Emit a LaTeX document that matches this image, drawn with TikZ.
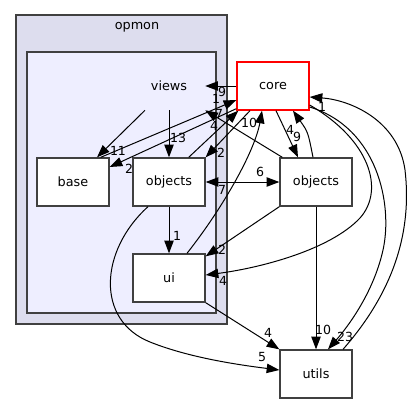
\documentclass[tikz,border=0pt]{standalone}
\usepackage{fontspec}
\setmainfont{DejaVu Sans}
\usetikzlibrary{arrows.meta,calc}
\definecolor{clusterA}{HTML}{DDDDEE}
\definecolor{clusterB}{HTML}{EEEEFF}
\definecolor{boxline}{HTML}{404040}
\begin{document}
\begin{tikzpicture}[x=0.75pt,y=-0.75pt,
  box/.style={draw=boxline, line width=1pt, fill=white, minimum width=54pt, minimum height=36pt, inner sep=0pt, font=\fontsize{9.6}{11}\selectfont},
  plain/.style={minimum width=54pt, minimum height=36pt, inner sep=0pt, font=\fontsize{9.6}{11}\selectfont},
  cluster/.style={draw=boxline, line width=1pt},
  dep/.style={-{Triangle[length=9.5pt,width=7pt]}, line width=0.75pt, black},
  both/.style={{Triangle[length=9.5pt,width=7pt]}-{Triangle[length=9.5pt,width=7pt]}, line width=0.75pt, black},
  lbl/.style={font=\fontsize{9.4}{10}\selectfont, inner sep=0pt}]
\useasboundingbox (0,0) rectangle (416,404);
% clusters
\draw[cluster, fill=clusterA] (16,15) rectangle (227,324);
\draw[cluster, fill=clusterB] (27,52) rectangle (216,313);
\node[plain, minimum height=0pt] (opmonlbl) at (137,27) {opmon};
% nodes
\node[plain] (views) at (169,86) {views};
\node[box] (base) at (73,182) {base};
\node[box] (objin) at (169,182) {objects};
\node[box] (ui) at (169,278) {ui};
\node[box, draw=red] (core) at (273,86) {core};
\node[box] (objout) at (316,182) {objects};
\node[box] (utils) at (316,374) {utils};
% edges
\draw[dep] ($(views.south)+(-24,0)$) -- ($(base.north)+(24,0)$);
\draw[dep] (views.south) -- (objin.north);
\draw[dep] (core.west) -- (views.east);
\draw[dep] ($(base.north east)+(-9,0)$) -- ($(core.west)+(0,14)$);
\draw[dep] ($(core.south west)+(0,-2)$) -- ($(base.east)+(0,-15)$);
\draw[dep] ($(objin.north east)+(-17,0)$) -- ($(core.south west)+(2,0)$);
\draw[dep] ($(core.south)+(-23,0)$) -- (objin.north east);
\draw[dep] ($(objout.north west)+(3,0)$) -- (views.south east);
\draw[dep] ($(ui.north)+(18,0)$) .. controls (225,205) and (255,150) .. ($(core.south)+(-11,0)$);
\draw[dep] ($(core.south)+(3,0)$) -- ($(objout.north)+(-18,0)$);
\draw[dep] ($(objout.north)+(-3,0)$) .. controls (308,132) .. ($(core.south)+(20,0)$);
\draw[both] (objin.east) -- (objout.west);
\draw[dep] (objin.south) -- (ui.north);
\draw[dep] (objout.south west) -- ($(ui.north east)+(0,3)$);
\draw[dep] ($(core.east)+(0,19)$) .. controls (370,140) and (385,190) .. (360,218) .. controls (330,250) and (260,268) .. ($(ui.east)+(0,-3)$);
\draw[dep] ($(core.east)+(0,21)$) .. controls (378,128) and (393,205) .. (383,250) .. controls (373,295) and (345,330) .. ($(utils.north)+(12,0)$);
\draw[dep] ($(utils.north)+(27,0)$) .. controls (395,290) and (412,230) .. (405,170) .. controls (398,120) and (350,100) .. ($(core.east)+(0,11)$);
\draw[dep] (objout.south) -- (utils.north);
\draw[dep] (ui.south east) -- (utils.north west);
\draw[dep] ($(objin.south)+(-21,0)$) .. controls (100,250) and (95,320) .. (150,342) .. controls (190,358) and (240,365) .. ($(utils.west)+(0,-4)$);
% labels
\node[lbl] (l1) at (118,151) {11};
\node[lbl] (l2) at (178,138) {13};
\node[lbl] (l3) at (222,92) {9};
\node[lbl] (l4) at (216,99) {1};
\node[lbl] (l5) at (129,169) {2};
\node[lbl] (l6) at (219,114) {7};
\node[lbl] (l7) at (214,126) {4};
\node[lbl] (l8) at (221,153) {2};
\node[lbl] (l9) at (249,123) {10};
\node[lbl] (l10) at (290,130) {4};
\node[lbl] (l11) at (297,137) {9};
\node[lbl] (l12) at (322,107) {1};
\node[lbl] (l13) at (260,172) {6};
\node[lbl] (l14) at (222,190) {7};
\node[lbl] (l15) at (177,236) {1};
\node[lbl] (l16) at (222,250) {2};
\node[lbl] (l17) at (223,281) {4};
\node[lbl] (l18) at (268,333) {4};
\node[lbl] (l19) at (262,357) {5};
\node[lbl] (l20) at (323,330) {10};
\node[lbl] (l21) at (345,337) {23};
\end{tikzpicture}
\end{document}
